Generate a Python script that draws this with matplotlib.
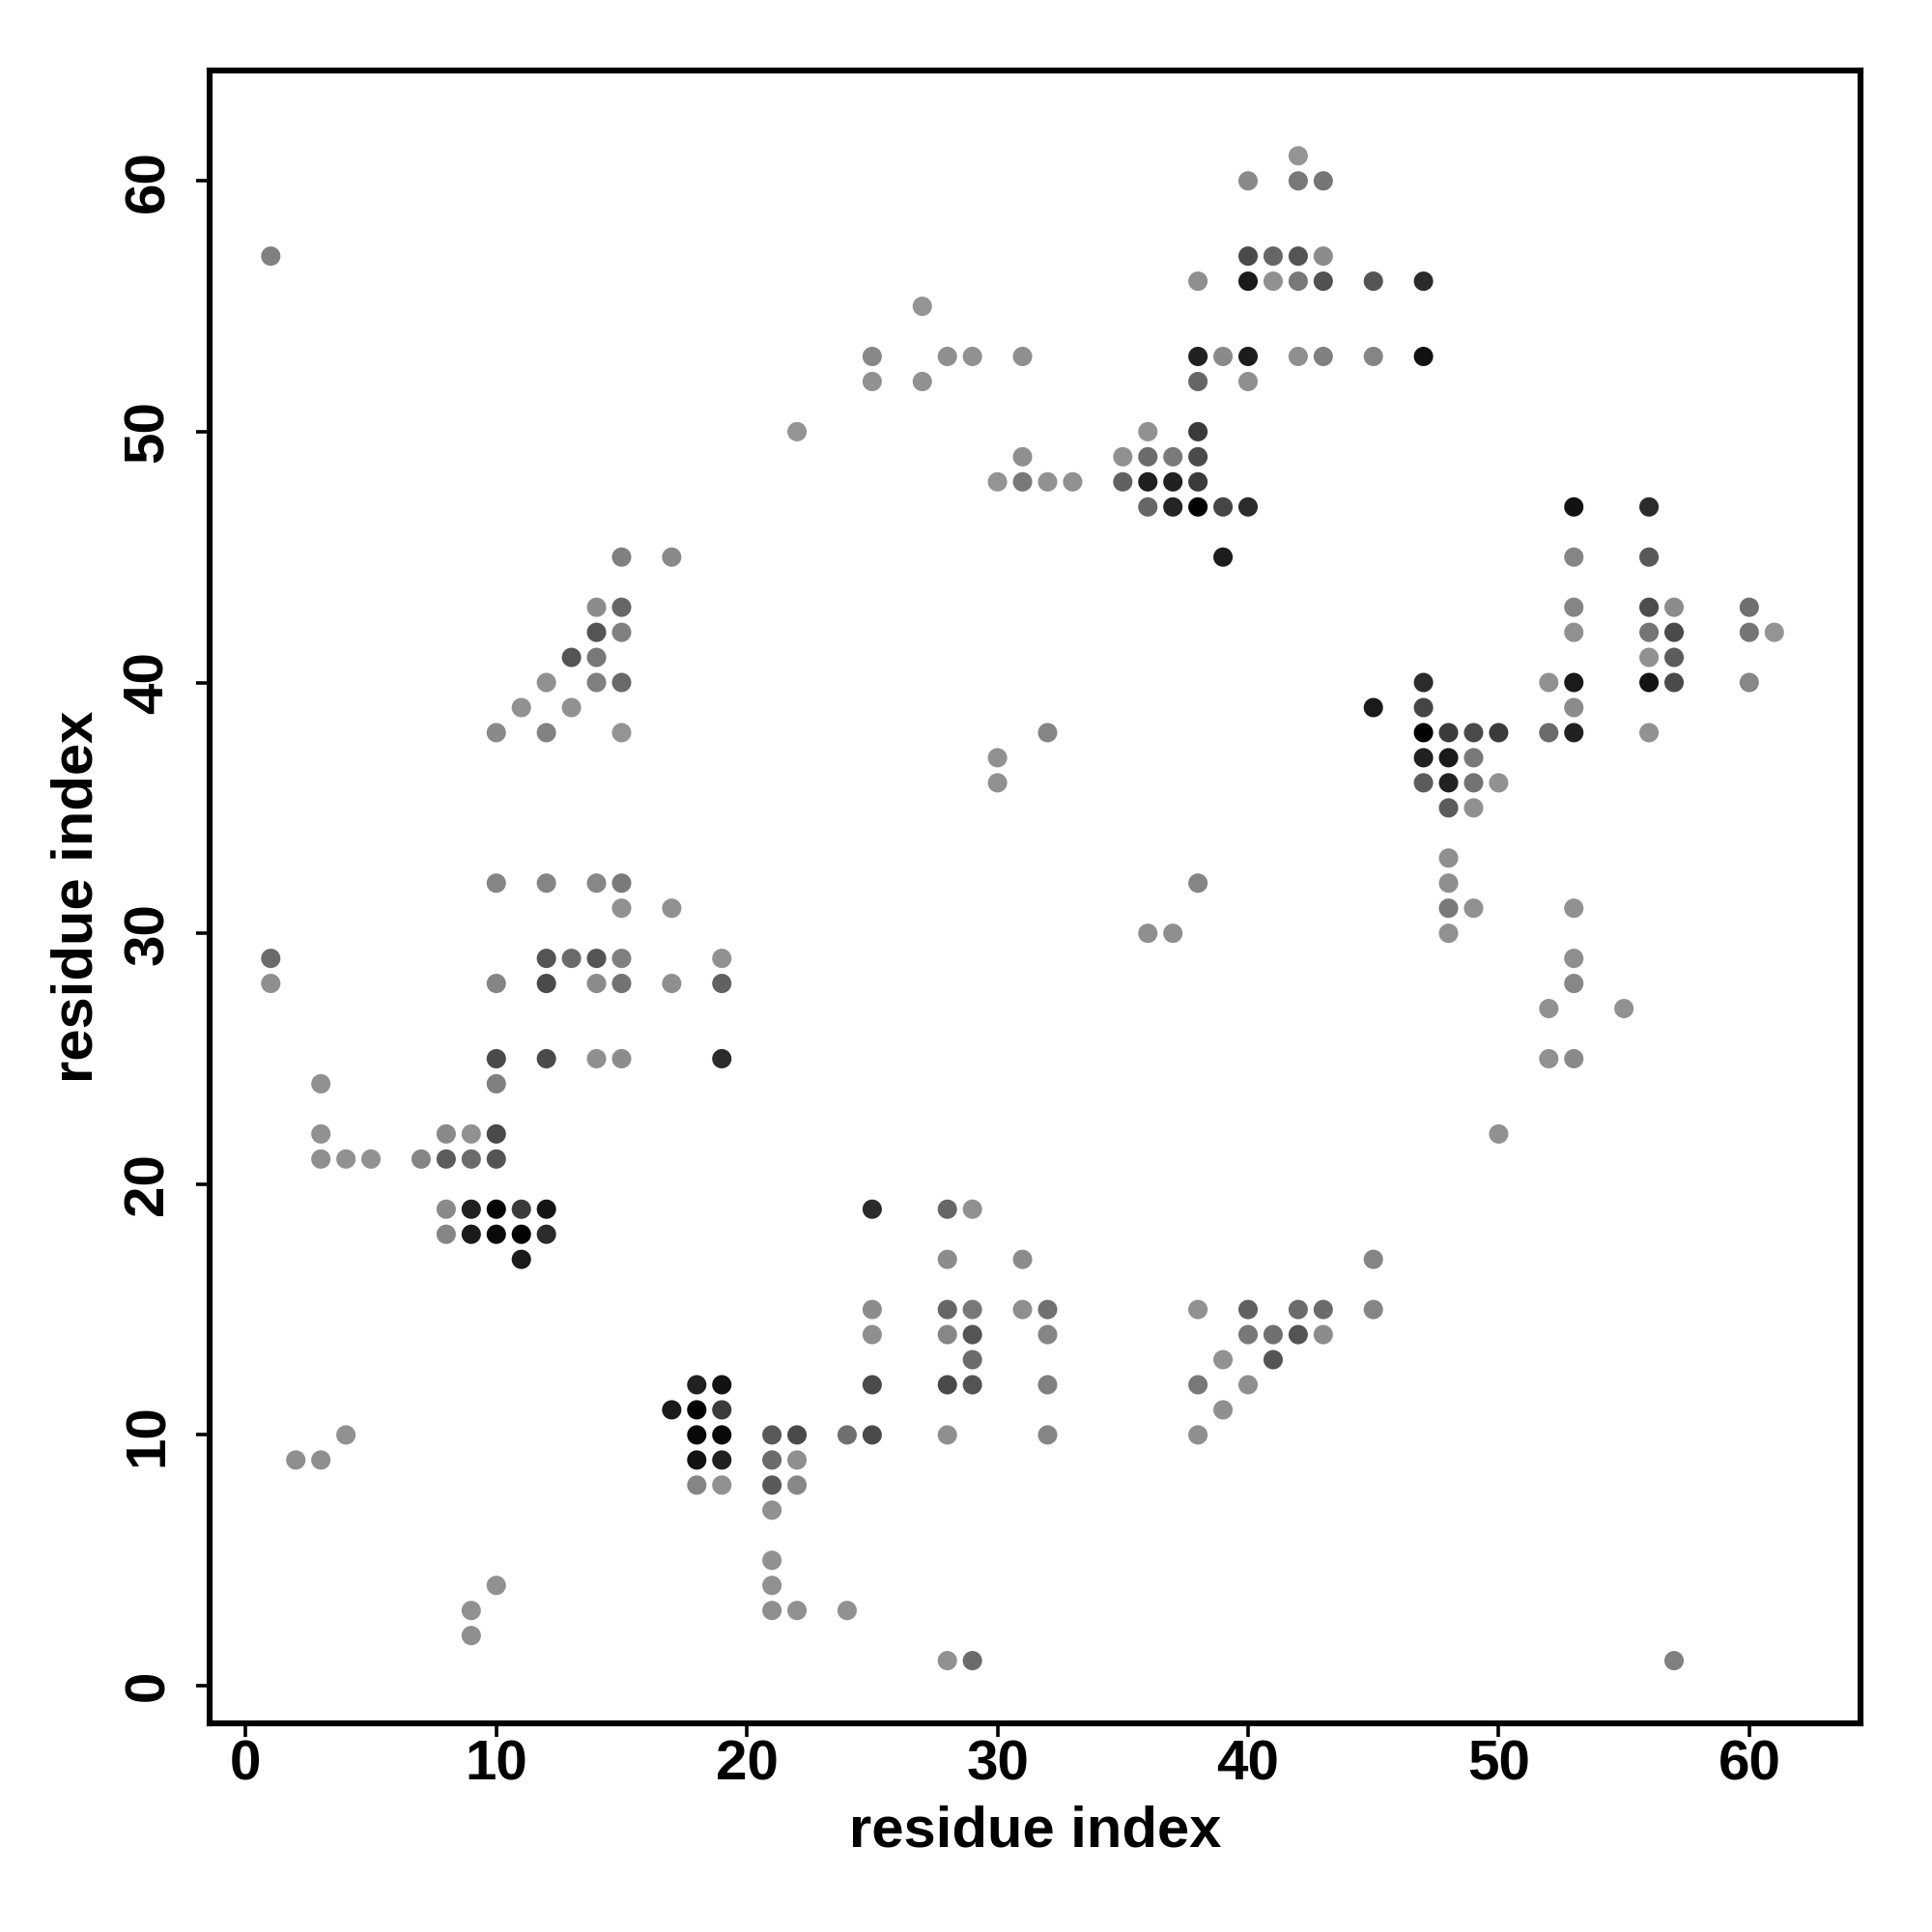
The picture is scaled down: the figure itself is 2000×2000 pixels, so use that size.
import matplotlib
matplotlib.use("Agg")
import matplotlib.pyplot as plt

# contact list: residue i (x), residue j (y), grey shade (0 = black, 1 = white)
res_x = [42,
         40, 42, 43,
         1, 40, 41, 42, 43,
         38, 40, 41, 42, 43, 45, 47,
         27,
         25, 28, 29, 31, 38, 39, 40, 42, 43, 45, 47,
         25, 27, 38, 40,
         22, 36, 38,
         31, 35, 36, 37, 38,
         30, 31, 32, 33, 35, 36, 37, 38,
         36, 37, 38, 39, 40, 53, 56,
         15, 17, 39, 53, 56,
         14, 15, 53, 56, 57, 60,
         14, 15, 53, 56, 57, 60, 61,
         13, 14, 56, 57,
         12, 14, 15, 47, 52, 53, 56, 57, 60,
         11, 13, 45, 47, 53,
         10, 12, 15, 32, 47, 48, 49, 50, 52, 53, 56,
         30, 47, 48, 49,
         30, 47, 48, 49, 50,
         48, 49,
         48,
         10, 12, 14, 15, 38, 48,
         15, 17, 48, 49, 53,
         36, 37, 48,
         1, 12, 13, 14, 15, 19, 53,
         1, 10, 12, 14, 15, 17, 19, 53,
         52, 55,
         10, 12, 14, 15, 19, 52, 53,
         3, 10,
         3, 8, 9, 10, 50,
         3, 4, 5, 7, 8, 9, 10,
         8, 9, 10, 11, 12, 25, 28, 29,
         8, 9, 10, 11, 12,
         11, 28, 31, 45,
         25, 28, 29, 31, 32, 38, 40, 42, 43, 45,
         25, 28, 29, 32, 40, 41, 42, 43,
         29, 39, 41,
         18, 19, 25, 28, 29, 32, 38, 40,
         17, 18, 19, 39,
         4, 18, 19, 21, 22, 24, 25, 28, 32, 38,
         2, 3, 18, 19, 21, 22,
         18, 19, 21, 22,
         21,
         21,
         10, 21,
         9, 21, 22, 24,
         9,
         28, 29, 57]

res_y = [61,
         60, 60, 60,
         57, 57, 57, 57, 57,
         56, 56, 56, 56, 56, 56, 56,
         55,
         53, 53, 53, 53, 53, 53, 53, 53, 53, 53, 53,
         52, 52, 52, 52,
         50, 50, 50,
         49, 49, 49, 49, 49,
         48, 48, 48, 48, 48, 48, 48, 48,
         47, 47, 47, 47, 47, 47, 47,
         45, 45, 45, 45, 45,
         43, 43, 43, 43, 43, 43,
         42, 42, 42, 42, 42, 42, 42,
         41, 41, 41, 41,
         40, 40, 40, 40, 40, 40, 40, 40, 40,
         39, 39, 39, 39, 39,
         38, 38, 38, 38, 38, 38, 38, 38, 38, 38, 38,
         37, 37, 37, 37,
         36, 36, 36, 36, 36,
         35, 35,
         33,
         32, 32, 32, 32, 32, 32,
         31, 31, 31, 31, 31,
         30, 30, 30,
         29, 29, 29, 29, 29, 29, 29,
         28, 28, 28, 28, 28, 28, 28, 28,
         27, 27,
         25, 25, 25, 25, 25, 25, 25,
         24, 24,
         22, 22, 22, 22, 22,
         21, 21, 21, 21, 21, 21, 21,
         19, 19, 19, 19, 19, 19, 19, 19,
         18, 18, 18, 18, 18,
         17, 17, 17, 17,
         15, 15, 15, 15, 15, 15, 15, 15, 15, 15,
         14, 14, 14, 14, 14, 14, 14, 14,
         13, 13, 13,
         12, 12, 12, 12, 12, 12, 12, 12,
         11, 11, 11, 11,
         10, 10, 10, 10, 10, 10, 10, 10, 10, 10,
         9, 9, 9, 9, 9, 9,
         8, 8, 8, 8,
         7,
         5,
         4, 4,
         3, 3, 3, 3,
         2,
         1, 1, 1]

shade = [0.58,
         0.54, 0.47, 0.46,
         0.50, 0.29, 0.40, 0.33, 0.55,
         0.56, 0.10, 0.57, 0.47, 0.32, 0.33, 0.17,
         0.58,
         0.53, 0.56, 0.57, 0.56, 0.13, 0.54, 0.11, 0.56, 0.50, 0.52, 0.07,
         0.57, 0.57, 0.40, 0.56,
         0.58, 0.57, 0.23,
         0.56, 0.57, 0.42, 0.48, 0.29,
         0.58, 0.47, 0.57, 0.57, 0.38, 0.12, 0.13, 0.23,
         0.40, 0.14, 0.01, 0.27, 0.17, 0.07, 0.17,
         0.50, 0.54, 0.11, 0.52, 0.35,
         0.55, 0.40, 0.52, 0.30, 0.55, 0.44,
         0.33, 0.50, 0.57, 0.46, 0.29, 0.46, 0.58,
         0.33, 0.47, 0.57, 0.36,
         0.57, 0.50, 0.41, 0.17, 0.57, 0.10, 0.08, 0.29, 0.53,
         0.57, 0.57, 0.10, 0.27, 0.55,
         0.54, 0.51, 0.58, 0.52, 0.01, 0.23, 0.29, 0.23, 0.42, 0.13, 0.57,
         0.57, 0.13, 0.10, 0.47,
         0.57, 0.36, 0.13, 0.45, 0.57,
         0.36, 0.57,
         0.56,
         0.52, 0.52, 0.53, 0.48, 0.52, 0.56,
         0.57, 0.57, 0.47, 0.57, 0.57,
         0.56, 0.56, 0.57,
         0.42, 0.33, 0.42, 0.33, 0.50, 0.57, 0.56,
         0.56, 0.52, 0.29, 0.55, 0.45, 0.56, 0.38, 0.53,
         0.57, 0.57,
         0.29, 0.29, 0.56, 0.55, 0.17, 0.57, 0.54,
         0.57, 0.50,
         0.57, 0.54, 0.57, 0.29, 0.57,
         0.56, 0.57, 0.57, 0.52, 0.36, 0.42, 0.33,
         0.54, 0.13, 0.02, 0.23, 0.08, 0.17, 0.40, 0.57,
         0.52, 0.10, 0.04, 0.01, 0.17,
         0.10, 0.55, 0.55, 0.52,
         0.55, 0.40, 0.47, 0.56, 0.44, 0.57, 0.38, 0.42, 0.42, 0.52,
         0.56, 0.53, 0.33, 0.52, 0.47, 0.44, 0.33, 0.55,
         0.42, 0.57, 0.33,
         0.13, 0.07, 0.29, 0.29, 0.33, 0.50, 0.47, 0.56,
         0.10, 0.01, 0.23, 0.56,
         0.57, 0.03, 0.03, 0.35, 0.29, 0.44, 0.29, 0.56, 0.52, 0.56,
         0.56, 0.56, 0.07, 0.13, 0.42, 0.56,
         0.52, 0.57, 0.35, 0.53,
         0.57,
         0.57,
         0.57, 0.57,
         0.57, 0.56, 0.57, 0.57,
         0.56,
         0.57, 0.42, 0.50]

x_ticks = [0, 10, 20, 30, 40, 50, 60]
y_ticks = [0, 10, 20, 30, 40, 50, 60]
x_label = "residue index"
y_label = "residue index"

plt.rcParams['font.family'] = ['Liberation Sans', 'DejaVu Sans']
plt.rcParams['font.weight'] = 'bold'

fig = plt.figure(figsize=(10, 10), dpi=200)
ax = fig.add_axes([0.1085, 0.108, 0.8545, 0.8555])

colors = [(s, s, s) for s in shade]
ax.scatter(res_x, res_y, s=52, c=colors, linewidths=0, zorder=3)

ax.set_xlim(-1.44, 64.44)
ax.set_ylim(-1.5, 64.4)

ax.set_xticks(x_ticks)
ax.set_yticks(y_ticks)
ax.set_xticklabels([str(t) for t in x_ticks], fontsize=21, fontweight='bold')
ax.set_yticklabels([str(t) for t in y_ticks], fontsize=21, fontweight='bold',
                   rotation=90, va='center')
ax.tick_params(axis='x', length=5, width=1.3, pad=1)
ax.tick_params(axis='y', length=5, width=1.3, pad=8)

for sp in ax.spines.values():
    sp.set_linewidth(2.2)
    sp.set_color('black')

ax.set_xlabel(x_label, fontsize=21.5, fontweight='bold', labelpad=5)
ax.set_ylabel(y_label, fontsize=21.5, fontweight='bold', labelpad=7)

fig.savefig("out.png", dpi=200, facecolor='white')
